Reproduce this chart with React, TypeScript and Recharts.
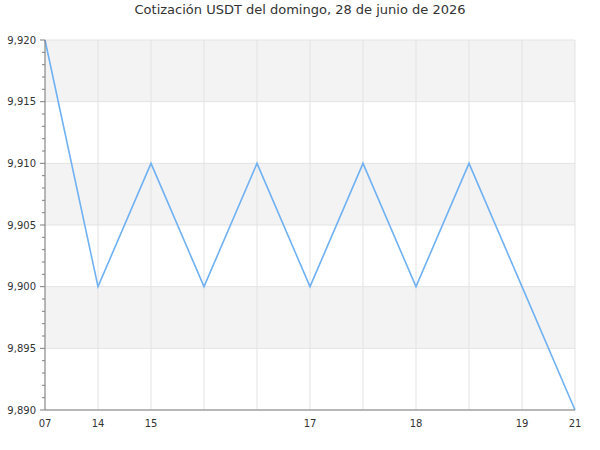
import React from "react";
import {
  Line,
  LineChart,
  ReferenceArea,
  ReferenceLine,
  XAxis,
  YAxis,
} from "recharts";

const TITLE = "Cotización USDT del domingo, 28 de junio de 2026";

// hour labels (blank = no label at that point)
const LABELS = ["07", "14", "15", "", "", "17", "", "18", "", "19", "21"];
const PRICES = [9.92, 9.9, 9.91, 9.9, 9.91, 9.9, 9.91, 9.9, 9.91, 9.9, 9.89];

const MAJOR_TICKS = [9.89, 9.895, 9.9, 9.905, 9.91, 9.915, 9.92];
const ALL_TICKS = [
  9.89, 9.891, 9.892, 9.893, 9.894, 9.895, 9.896, 9.897, 9.898, 9.899, 9.9,
  9.901, 9.902, 9.903, 9.904, 9.905, 9.906, 9.907, 9.908, 9.909, 9.91, 9.911,
  9.912, 9.913, 9.914, 9.915, 9.916, 9.917, 9.918, 9.919, 9.92,
];
// grey bands [from, to]
const BANDS: [number, number][] = [
  [9.895, 9.9],
  [9.905, 9.91],
  [9.915, 9.92],
];

const data = LABELS.map((label, i) => ({ key: i, label, price: PRICES[i] }));

const fmt = (v: number) => v.toFixed(3).replace(".", ",");
const isMajor = (v: number) => MAJOR_TICKS.some((m) => Math.abs(m - v) < 1e-6);

const FONT = "'DejaVu Sans', sans-serif";
const AXIS = "#7f7f7f";
const GRID = "#e3e3e3";

function YTick(props: any) {
  const { x, y, payload } = props;
  const major = isMajor(payload.value);
  const axisX = x + 9;
  return (
    <g>
      <line x1={axisX - (major ? 5 : 3)} x2={axisX} y1={y} y2={y} stroke={AXIS} />
      {major && (
        <text x={x} y={y} dy="0.35em" textAnchor="end" fontSize={10} fill="#333" fontFamily={FONT}>
          {fmt(payload.value)}
        </text>
      )}
    </g>
  );
}

export default function App() {
  return (
    <div style={{ position: "absolute", left: 0, top: 0, width: 600, height: 450, background: "#fff" }}>
      <div
        style={{
          position: "absolute",
          top: 2,
          left: 0,
          width: 600,
          textAlign: "center",
          fontFamily: FONT,
          fontSize: 13,
          color: "#333",
        }}
      >
        {TITLE}
      </div>
      <LineChart width={600} height={450} data={data} margin={{ top: 40, right: 25, bottom: 0, left: 0 }}>
        {BANDS.map(([a, b]) => (
          <ReferenceArea key={a} y1={a} y2={b} fill="#f3f3f3" fillOpacity={1} stroke="none" />
        ))}
        {MAJOR_TICKS.map((v) => (
          <ReferenceLine key={v} y={v} stroke={GRID} />
        ))}
        {data.map((d) => (
          <ReferenceLine key={"x" + d.key} x={d.key} stroke={GRID} />
        ))}
        <XAxis
          dataKey="key"
          interval={0}
          tickLine={false}
          axisLine={{ stroke: AXIS }}
          tickFormatter={(i: number) => LABELS[i]}
          tick={{ fontSize: 10, fill: "#333", fontFamily: FONT }}
          tickMargin={4}
          height={40}
        />
        <YAxis
          domain={[9.89, 9.92]}
          ticks={ALL_TICKS}
          interval={0}
          width={45}
          tickLine={false}
          tickSize={5}
          tickMargin={4}
          axisLine={{ stroke: AXIS }}
          tick={<YTick />}
        />
        <Line
          dataKey="price"
          type="linear"
          stroke="#6fb1f2"
          strokeWidth={1.6}
          dot={false}
          isAnimationActive={false}
        />
      </LineChart>
    </div>
  );
}
